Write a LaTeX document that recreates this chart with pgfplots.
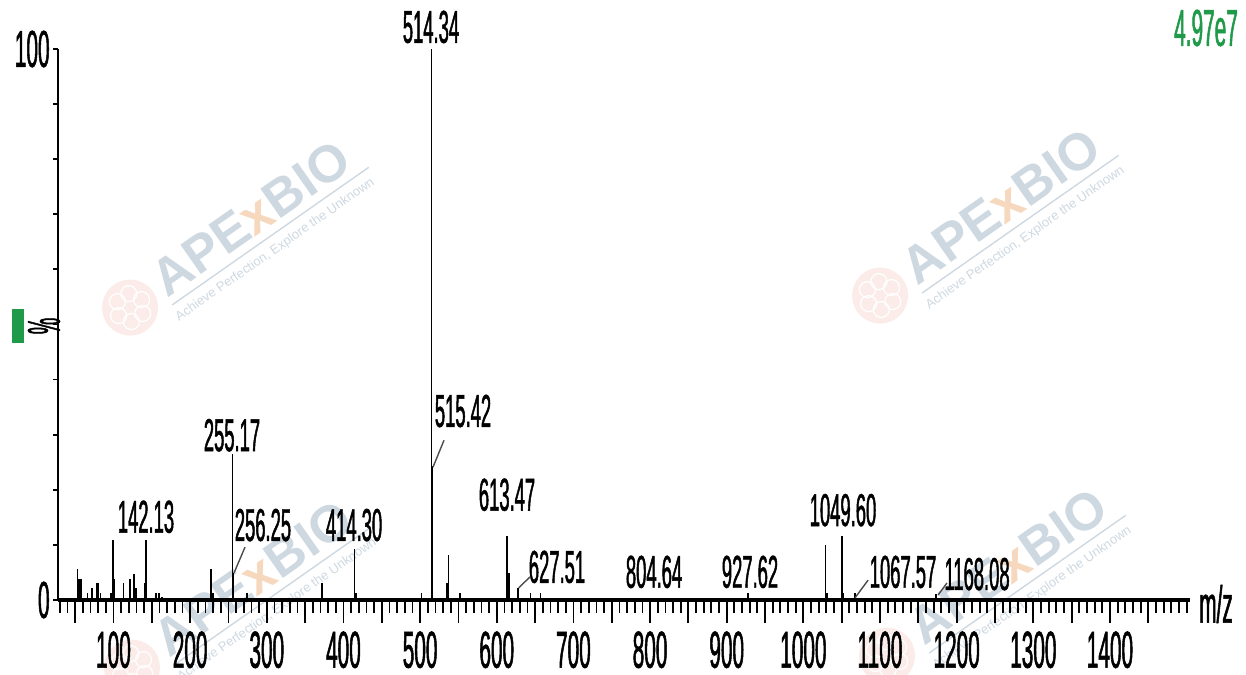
\documentclass[border=0pt]{standalone}
\usepackage{fontspec}
\setmainfont{Liberation Sans}[FakeStretch=0.4, FakeBold=1]
\newfontfamily\wmfont{Liberation Sans}
\usepackage{pgfplots}
\pgfplotsset{compat=1.18}
\definecolor{msgreen}{HTML}{1E9A48}
\definecolor{wmblue}{HTML}{CED8E1}
\definecolor{wmorange}{HTML}{F6D8BE}
\definecolor{wmpink}{HTML}{F7DDD6}
\newcommand\pk{\fontsize{23}{23}\selectfont}
\newcommand\tk{\fontsize{26}{26}\selectfont}

\begin{document}
\begin{tikzpicture}
% watermarks, drawn first so they stay behind the spectrum
\foreach \cx/\cy in {95/187.5, 470/193.5, 96/7.5, 473.5/13.5} {
  \begin{scope}[shift={(\cx pt,\cy pt)}, rotate=35, transform shape]
    \node[font=\wmfont\bfseries\fontsize{26}{26}\selectfont, text=wmblue] at (3pt,2pt) {APE\textcolor{wmorange}{x}BIO};
    \draw[wmblue, line width=0.7pt] (-54pt,-11pt) -- (66pt,-11pt);
    \node[font=\wmfont\fontsize{6.5}{6.5}\selectfont, text=wmblue, anchor=north] at (4pt,-11.5pt) {Achieve Perfection, Explore the Unknown};
    \fill[wmpink!55] (-72pt,0pt) circle (14pt);
    \foreach \a in {0,60,...,300} {\draw[white, line width=0.6pt] (-72pt,0pt) ++(\a:7pt) circle (4pt);}
  \end{scope}
}

\begin{axis}[
  scale only axis,
  width=566pt, height=275.5pt,
  xmin=27.6, xmax=1504.4,
  ymin=0, ymax=100,
  axis x line=bottom, axis y line=left,
  x axis line style={-, line width=1.8pt},
  y axis line style={-, line width=1pt},
  tick align=outside,
  xtick={50,100,...,1450},
  xticklabels={,100,,200,,300,,400,,500,,600,,700,,800,,900,,1000,,1100,,1200,,1300,,1400,},
  minor xtick={30,40,...,1500},
  ytick={0,100},
  minor ytick={10,20,...,90},
  major tick length=11.5pt,
  minor tick length=6.5pt,
  ytick style={/pgfplots/major tick length=2.5pt, /pgfplots/minor tick length=2.5pt},
  tick style={black, line width=0.9pt},
  /pgf/number format/assume math mode=true,
  xticklabel style={font=\tk, inner sep=0pt, yshift=-4pt},
  yticklabel style={font=\tk, inner sep=0pt, xshift=7.5pt},
  clip=false,
]
\addplot[ycomb, black, line width=0.85pt, mark=none] coordinates {
  (53,5.6) (55,3.8) (58,3.8) (66,1.3) (72,2.2) (78,3.1) (80,3.1) (83,1.3)
  (97,1.3) (99.3,10.9) (101,3.8) (113,3.1) (121.6,3.8) (127,4.8) (129,2.2)
  (141,3.1) (142.13,10.9) (155,1.3) (159,1.3) (163,0.6)
  (227,5.6) (229.5,1.3) (255.17,26.5) (256.25,4.9) (274,1.3)
  (371.6,3.1) (414.30,9.2) (416,1.3)
  (502,1.3) (515.42,24.3) (535,3.1) (537,8.2) (552,1.3)
  (613.47,11.6) (616,4.9) (627.51,2.2) (644,1.3) (657,1.3)
  (804.64,0.3) (927.62,1.3)
  (1029,10) (1031,1.3) (1050.5,11.6) (1052,1.3) (1067.57,1.3) (1173,1.1)
};
\addplot[ycomb, black, line width=0.6pt, mark=none] coordinates {(514.34,100)};

% peak labels
\node[font=\pk] at (axis cs:514.2,104) {514.34};
\node[font=\pk] at (axis cs:254.6,29.9) {255.17};
\node[font=\pk] at (axis cs:295,13.6) {256.25};
\node[font=\pk] at (axis cs:142.4,15.1) {142.13};
\node[font=\pk] at (axis cs:413.8,13.6) {414.30};
\node[font=\pk] at (axis cs:556,34.3) {515.42};
\node[font=\pk] at (axis cs:613.4,19.1) {613.47};
\node[font=\pk] at (axis cs:678.6,6.0) {627.51};
\node[font=\pk] at (axis cs:805.2,5.1) {804.64};
\node[font=\pk] at (axis cs:930.4,5.1) {927.62};
\node[font=\pk] at (axis cs:1051.7,16.3) {1049.60};
\node[font=\pk] at (axis cs:1130,5.1) {1067.57};
\node[font=\pk] at (axis cs:1226.6,4.7) {1168.08};

% leader lines
\draw[black!70, line width=0.7pt] (axis cs:257.2,4.9) -- (axis cs:271.6,9.6);
\draw[black!70, line width=0.7pt] (axis cs:516.8,24.1) -- (axis cs:531.2,29.0);
\draw[black!70, line width=0.7pt] (axis cs:628.6,2.2) -- (axis cs:643.4,4.2);
\draw[black!70, line width=0.7pt] (axis cs:1067.4,0.4) -- (axis cs:1084.4,3.6);
\draw[black!70, line width=0.7pt] (axis cs:1175.7,0.9) -- (axis cs:1187.4,3.1);
\end{axis}

% axis furniture outside the plot box (axis box lower left is the origin)
\node[font=\pk, rotate=90] at (-7pt,137pt) {\%};
\fill[msgreen] (-23pt,128.5pt) rectangle (-17pt,145.5pt);
\node[font=\tk, text=msgreen] at (574pt,286pt) {4.97e7};
\node[font=\tk] at (579pt,-2pt) {m/z};

\pgfresetboundingbox
\path (-29pt,-37pt) rectangle (594pt,300pt);
\end{tikzpicture}
\end{document}
